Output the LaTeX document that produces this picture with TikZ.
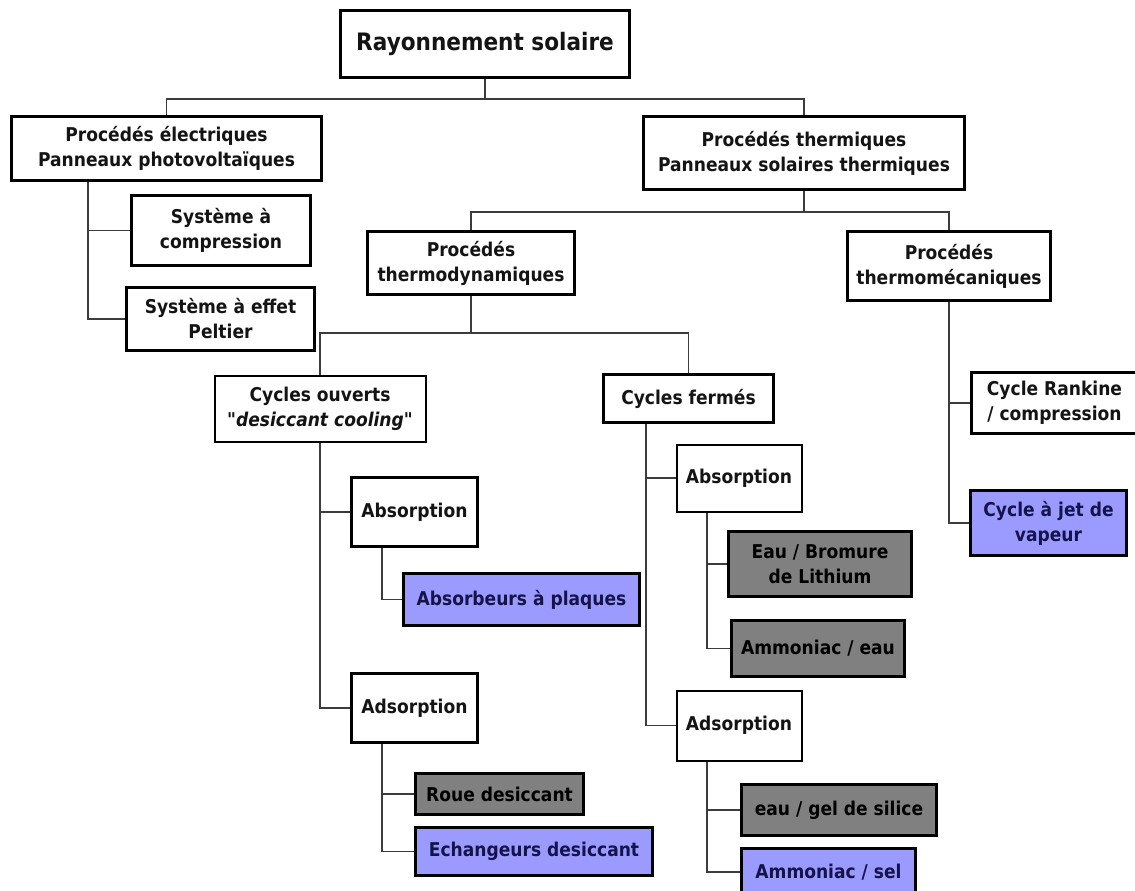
\documentclass[tikz,border=0pt]{standalone}
\usepackage{fontspec}
\newfontfamily\dv{DejaVu Sans}[FakeStretch=0.9]
\definecolor{lav}{RGB}{155,155,255}
\definecolor{grayfill}{RGB}{128,128,128}
\definecolor{navytext}{RGB}{20,20,75}
\definecolor{txt}{RGB}{20,20,20}
\definecolor{wire}{RGB}{60,60,60}
\tikzset{
  box/.style={draw=black, line width=3.2pt, fill=white, inner sep=0pt, align=center,
    text=txt, font=\dv\fontsize{19}{25}\selectfont\bfseries},
  thinbox/.style={box, line width=2pt},
  bluebox/.style={box, fill=lav, text=navytext},
  graybox/.style={box, fill=grayfill, text=black},
  wirel/.style={draw=wire, line width=1.6pt},
  sz/.style 2 args={minimum width=#1pt-3pt, minimum height=#2pt-3pt}
}
\begin{document}
\begin{tikzpicture}[x=1pt,y=-1pt]
\useasboundingbox (0,0) rectangle (1135,891);
\clip (0,0) rectangle (1135,891);
\fill[white] (0,0) rectangle (1135,891);

\coordinate (j1) at (485,98.7);
\coordinate (j2) at (804,212);
\coordinate (j3) at (471,333);
\coordinate (pev) at (88,182);
\coordinate (absLv) at (382,548);
\coordinate (adsLv) at (382,744);
\coordinate (cfv) at (646,424);
\coordinate (absRv) at (706.7,513);
\coordinate (adsRv) at (706.7,762);

\node[box, sz={292}{70}, font=\dv\fontsize{24}{28}\selectfont\bfseries] (ray) at (485,44) {Rayonnement solaire};
\node[box, sz={313}{67}] (pe) at (166.5,148.5) {Procédés électriques\\Panneaux photovoltaïques};
\node[box, sz={324}{76}] (pt) at (804,153) {Procédés thermiques\\Panneaux solaires thermiques};
\node[box, sz={210}{66}] (tdyn) at (471,263) {Procédés\\thermodynamiques};
\node[box, sz={206}{72}] (tmec) at (949,266) {Procédés\\thermomécaniques};
\node[box, sz={182}{73}] (comp) at (221,230.5) {Système à\\compression};
\node[box, sz={191}{66}] (pelt) at (220.5,319) {Système à effet\\Peltier};
\node[thinbox, sz={214}{69}] (co) at (320,408.5) {Cycles ouverts\\\textit{"desiccant cooling"}};
\node[box, sz={173}{51}] (cf) at (688.5,398.5) {Cycles fermés};
\node[box, sz={129}{72}] (absL) at (414.5,512) {Absorption};
\node[bluebox, sz={239}{55}] (absb) at (521.5,599.5) {Absorbeurs à plaques};
\node[box, sz={129}{72}] (adsL) at (414.5,708) {Adsorption};
\node[graybox, sz={171}{44}] (roue) at (499.5,794) {Roue desiccant};
\node[bluebox, sz={240}{51}] (ech) at (534,851.5) {Echangeurs desiccant};
\node[thinbox, sz={128}{70}] (absR) at (739,478) {Absorption};
\node[graybox, sz={186}{68}] (bro) at (820,564) {Eau / Bromure\\de Lithium};
\node[graybox, sz={176}{59}] (amE) at (818,648.5) {Ammoniac / eau};
\node[thinbox, sz={128}{73}] (adsR) at (739,725.5) {Adsorption};
\node[graybox, sz={198}{54}] (gel) at (839,810) {eau / gel de silice};
\node[bluebox, sz={177}{50}] (amS) at (828.5,872) {Ammoniac / sel};
\node[box, sz={229}{64}] (rank) at (1084.5,403) {Cycle Rankine\hspace*{60pt}\\/ compression\hspace*{60pt}};
\node[bluebox, sz={159}{68}] (jet) at (1048.5,523) {Cycle à jet de\\vapeur};

\draw[wirel] (ray.south) -- (j1);
\draw[wirel] (j1) -| (pe.north);
\draw[wirel] (j1) -| (pt.north);
\draw[wirel] (pt.south) -- (j2);
\draw[wirel] (j2) -| (tdyn.north);
\draw[wirel] (j2) -| (tmec.north);
\draw[wirel] (pev) |- (comp.west);
\draw[wirel] (pev) |- (pelt.west);
\draw[wirel] (tdyn.south) -- (j3);
\draw[wirel] (j3) -| (co.north);
\draw[wirel] (j3) -| (cf.north);
\draw[wirel] (co.south) |- (absL.west);
\draw[wirel] (co.south) |- (adsL.west);
\draw[wirel] (absLv) |- (absb.west);
\draw[wirel] (adsLv) |- (roue.west);
\draw[wirel] (adsLv) |- (ech.west);
\draw[wirel] (cfv) |- (absR.west);
\draw[wirel] (cfv) |- (adsR.west);
\draw[wirel] (absRv) |- (bro.west);
\draw[wirel] (absRv) |- (amE.west);
\draw[wirel] (adsRv) |- (gel.west);
\draw[wirel] (adsRv) |- (amS.west);
\draw[wirel] (tmec.south) |- (rank.west);
\draw[wirel] (tmec.south) |- (jet.west);
\end{tikzpicture}
\end{document}
